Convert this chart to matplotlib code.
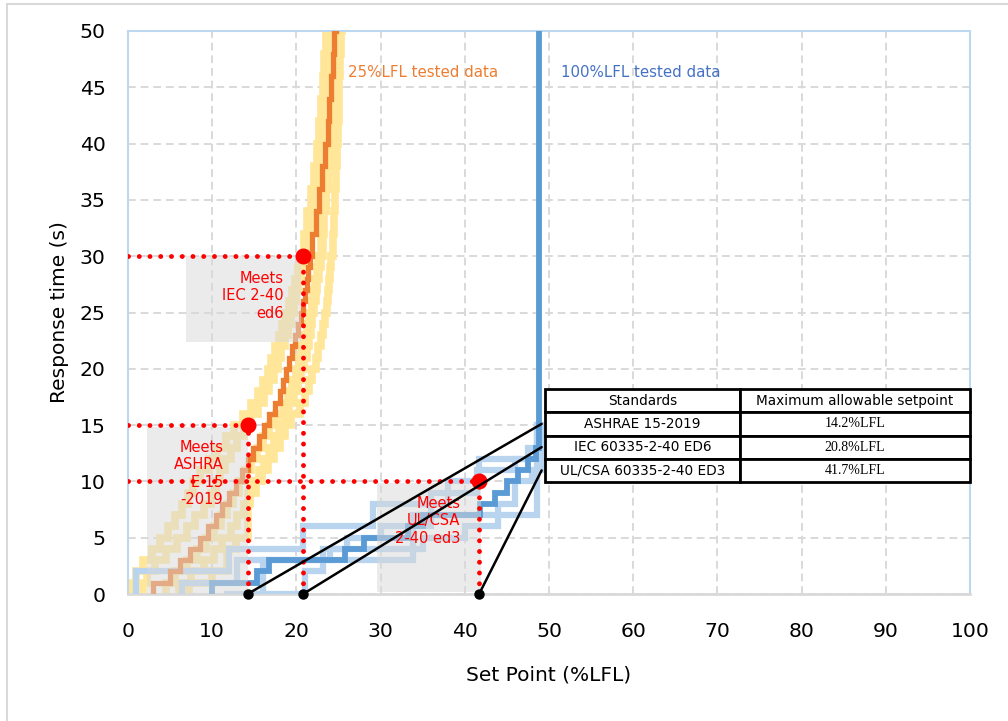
import matplotlib.pyplot as plt
from matplotlib.patches import Rectangle

# 25%LFL tested data: set point (%LFL) at which each response time (s) is reached
t_25_main = [0, 1, 2, 3, 4, 5, 6, 7, 8, 9, 10, 11, 12, 13, 14, 15, 16, 17, 18, 19, 20,
             21, 22, 23, 24, 25, 26, 27, 28, 29, 30, 32, 34, 36, 38, 40, 42, 44, 46, 48, 50, 52]
x_25_main = [3.0, 3.0, 5.0, 6.2, 7.4, 8.5, 9.5, 10.4, 11.2, 12.0, 12.8, 13.5, 14.2, 14.9, 15.5,
             16.1, 16.7, 17.4, 18.0, 18.4, 18.8, 19.1, 19.5, 19.8, 20.2, 20.5, 20.8, 21.0, 21.2,
             21.4, 21.6, 21.9, 22.3, 22.7, 23.0, 23.4, 23.7, 23.9, 24.1, 24.3, 24.5, 24.7]

t_25 = [0, 1, 2, 3, 4, 5, 6, 7, 8, 9, 10, 11, 12, 13, 14, 15, 16, 17, 18, 19, 20,
        21, 22, 23, 24, 25, 26, 27, 28, 29, 30, 32, 34, 36, 38, 40, 42, 44, 46, 48, 50, 52]
x_25_a = [0.4, 0.4, 0.9, 1.8, 2.8, 3.8, 4.8, 5.6, 6.4, 7.1, 7.7, 8.6, 9.6, 10.6, 11.6, 12.6,
          13.6, 14.6, 15.4, 16.0, 16.6, 17.0, 17.4, 17.9, 18.3, 18.7, 19.1, 19.5, 19.8, 20.2,
          20.5, 20.9, 21.3, 21.7, 22.1, 22.4, 22.7, 22.9, 23.1, 23.3, 23.5, 23.7]
x_25_b = [1.8, 1.8, 2.2, 3.2, 4.5, 5.8, 7.0, 8.0, 9.0, 9.8, 10.4, 10.9, 11.5, 12.2, 13.0, 13.8,
          14.6, 15.4, 16.1, 16.7, 17.3, 17.8, 18.2, 18.6, 19.0, 19.4, 19.7, 20.0, 20.3, 20.6,
          20.9, 21.3, 21.7, 22.0, 22.4, 22.7, 23.0, 23.2, 23.4, 23.6, 23.8, 24.0]
x_25_c = [4.5, 4.5, 5.6, 7.0, 8.2, 9.3, 10.2, 11.0, 11.8, 12.5, 13.2, 13.9, 14.6, 15.3, 16.0, 16.8,
          17.6, 18.4, 19.0, 19.5, 20.0, 20.3, 20.6, 20.9, 21.2, 21.5, 21.8, 22.0, 22.2, 22.4,
          22.6, 22.9, 23.2, 23.5, 23.8, 24.1, 24.3, 24.5, 24.7, 24.8, 24.9, 25.0]
x_25_d = [6.0, 6.0, 7.5, 9.0, 10.2, 11.2, 12.2, 13.0, 13.8, 14.5, 15.2, 15.9, 16.6, 17.3, 18.0, 18.7,
          19.4, 20.4, 21.0, 21.5, 21.9, 22.3, 22.6, 22.9, 23.2, 23.4, 23.6, 23.8, 23.9, 24.0,
          24.1, 24.3, 24.5, 24.6, 24.7, 24.8, 24.9, 25.0, 25.1, 25.2, 25.3, 25.4]
t_25_e = [0, 1, 2, 4, 5, 9, 10, 11, 12, 13, 14, 15, 16, 17, 18, 19, 20,
          21, 22, 23, 24, 25, 26, 27, 28, 29, 30, 32, 34, 36, 38, 40, 42, 44, 46, 48, 50, 52]
x_25_e = [7.2, 7.2, 10.0, 11.8, 12.8, 14.2, 14.9, 15.5, 16.1, 16.7, 17.3, 17.9, 18.5, 19.1,
          19.7, 20.2, 20.6, 20.9, 21.2, 21.5, 21.7, 21.9, 22.1, 22.3, 22.5, 22.7, 22.9,
          23.1, 23.3, 23.5, 23.7, 23.9, 24.1, 24.3, 24.4, 24.6, 24.7, 24.8]

# 100%LFL tested data
t_100_main = [0, 1, 2, 3, 4, 5, 6, 7, 8, 9, 10, 11, 12, 13, 52]
x_100_main = [10.0, 10.0, 15.3, 16.8, 25.8, 28.0, 33.2, 35.0, 41.8, 43.6, 45.0, 46.3, 47.5, 48.4, 48.8]
t_100_a = [0, 2, 4, 6, 8, 10, 12, 13, 15]
x_100_a = [1.0, 1.0, 12.0, 20.8, 29.1, 38.0, 41.7, 47.5, 48.6]
t_100_b = [0, 1, 3, 7, 15]
x_100_b = [6.4, 6.4, 13.0, 33.9, 48.6]
t_100_c = [0, 2, 4, 5, 6, 9, 11, 12, 15]
x_100_c = [11.7, 21.0, 23.2, 26.0, 30.0, 36.0, 41.5, 46.0, 49.3]
t_100_d = [0, 3, 4, 5, 6, 8, 10, 11, 15]
x_100_d = [14.0, 16.0, 24.0, 35.0, 40.0, 44.0, 46.0, 48.0, 49.3]

# standards: maximum allowable set point and required response time
standards = ['ASHRAE 15-2019', 'IEC 60335-2-40 ED6', 'UL/CSA 60335-2-40 ED3']
setpoints = [14.2, 20.8, 41.7]
resp_req = [15, 30, 10]
meets_labels = ['Meets\nASHRA\nE 15\n-2019', 'Meets\nIEC 2-40\ned6', 'Meets\nUL/CSA\n2-40 ed3']
label_pos = [(11.3, 13.7), (18.45, 28.7), (39.5, 8.7)]
boxes = [(2.2, 0.0, 12.0, 14.8), (6.9, 22.4, 13.6, 7.6), (29.6, 0.2, 12.3, 9.7)]

YELLOW = '#FFE699'
ORANGE = '#ED7D31'
LBLUE = '#B8D4EE'
BLUE = '#5B9BD5'

fig = plt.figure(figsize=(10.08, 7.21), dpi=100)
fig.patches.append(Rectangle((7 / 1008, -0.1), 1.2, (721 - 3.5) / 721 + 0.1,
                             transform=fig.transFigure, fill=False,
                             edgecolor='#D9D9D9', lw=1.5))
ax = fig.add_axes([128 / 1008, 127 / 721, 842 / 1008, 563 / 721])

for xs, ts in [(x_25_a, t_25), (x_25_b, t_25), (x_25_c, t_25), (x_25_d, t_25), (x_25_e, t_25_e)]:
    ax.step(xs, ts, where='post', color=YELLOW, lw=5.5, zorder=2, solid_joinstyle='miter')
for xs, ts in [(x_100_a, t_100_a), (x_100_b, t_100_b), (x_100_c, t_100_c), (x_100_d, t_100_d)]:
    ax.step(xs, ts, where='post', color=LBLUE, lw=4.5, zorder=3, solid_joinstyle='miter')
ax.step(x_100_main, t_100_main, where='post', color=BLUE, lw=4.2, zorder=4, solid_joinstyle='miter')
ax.step(x_25_main, t_25_main, where='post', color=ORANGE, lw=3.8, zorder=5, solid_joinstyle='miter')

# shaded boxes behind the "Meets ..." notes
for bx, by, bw, bh in boxes:
    ax.add_patch(Rectangle((bx, by), bw, bh, facecolor='#D9D9D9', alpha=0.5,
                           edgecolor='none', zorder=6))

for sp, rt, lab, (lx, ly) in zip(setpoints, resp_req, meets_labels, label_pos):
    ax.plot([0, sp], [rt, rt], color='red', lw=3.5, linestyle=(0, (0.01, 2.2)),
            dash_capstyle='round', zorder=7)
    ax.plot([sp, sp], [0, rt], color='red', lw=3.5, linestyle=(0, (0.01, 2.2)),
            dash_capstyle='round', zorder=7)
    ax.plot(sp, rt, 'o', color='red', ms=10.5, zorder=8)
    ax.text(lx, ly, lab, color='red', fontsize=10.5, ha='right', va='top', zorder=8)

ax.text(26.1, 46.3, '25%LFL tested data', color=ORANGE, fontsize=10.8, va='center')
ax.text(51.4, 46.3, '100%LFL tested data', color='#4472C4', fontsize=10.8, va='center')

# table of standards
tb_x0, tb_y0, tb_w, tb_h = (545 - 128) / 842, (594 - 482) / 563, 425 / 842, 93 / 563
rows = [['Standards', 'Maximum allowable setpoint']] + \
       [[s, f'{v}%LFL'] for s, v in zip(standards, setpoints)]
tbl = ax.table(cellText=rows, cellLoc='center', colWidths=[0.459, 0.541],
               bbox=[tb_x0, tb_y0, tb_w, tb_h], zorder=10)
tbl.auto_set_font_size(False)
for (r, c), cell in tbl.get_celld().items():
    cell.set_linewidth(2)
    cell.set_edgecolor('black')
    cell.set_facecolor('white')
    txt = cell.get_text()
    if r > 0 and c == 1:
        txt.set_fontfamily('Liberation Serif')
        txt.set_fontsize(10)
    else:
        txt.set_fontsize(9.8)

# connectors from each table row to its set point on the x axis
for i, sp in enumerate(setpoints):
    row_y = tb_y0 + tb_h * (1 - (i + 1.5) / 4)
    ax.annotate('', xy=(sp, 0), xycoords='data', xytext=(tb_x0 - 0.004, row_y),
                textcoords='axes fraction',
                arrowprops=dict(arrowstyle='-', lw=1.8, color='black',
                                shrinkA=0, shrinkB=0), zorder=9)
    ax.plot(sp, 0, 'o', color='black', ms=6.5, clip_on=False, zorder=9)

ax.set_xlim(0, 100)
ax.set_ylim(0, 50)
ax.set_xticks(range(0, 101, 10))
ax.set_yticks(range(0, 51, 5))
ax.grid(True, color='#D9D9D9', lw=1.4, linestyle=(0, (4, 2.5)))
ax.set_axisbelow(True)
ax.tick_params(length=0, labelsize=14.7)
ax.tick_params(axis='x', pad=20)
ax.tick_params(axis='y', pad=16)
for side in ['top', 'left', 'right']:
    ax.spines[side].set_color('#BDD7EE')
    ax.spines[side].set_linewidth(1.5)
ax.spines['bottom'].set_color('#D9D9D9')
ax.spines['bottom'].set_linewidth(2)
ax.set_xlabel('Set Point (%LFL)', fontsize=14.5, labelpad=18)
ax.set_ylabel('Response time (s)', fontsize=14.5, labelpad=8)

fig.savefig('out.png', dpi=100)
